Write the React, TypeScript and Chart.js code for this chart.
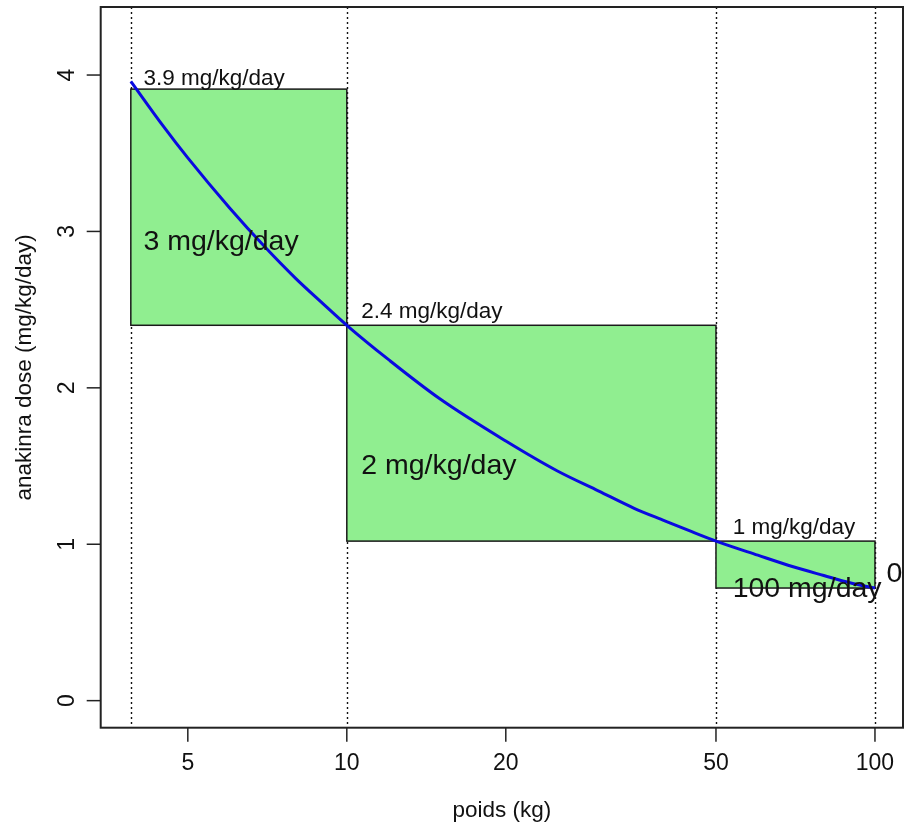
import React, { useEffect, useRef } from "react";
import { Chart, registerables } from "chart.js";
Chart.register(...registerables);

// curve: weight (kg) -> anakinra dose (mg/kg/day)
const weights = [3.9, 4.5, 5, 6, 7, 8, 9, 10, 12, 15, 20, 25, 30, 35, 40, 45, 50, 60, 70, 80, 90, 100];
const doses = [3.96, 3.67, 3.47, 3.15, 2.9, 2.7, 2.54, 2.4, 2.18, 1.93, 1.66, 1.47, 1.34, 1.23, 1.15, 1.08, 1.02, 0.93, 0.856, 0.8, 0.752, 0.72];

// dosing bands (green boxes)
const bandFrom = [3.9, 10, 50];
const bandTo = [10, 50, 100];
const bandLow = [2.4, 1.02, 0.72];
const bandHigh = [3.91, 2.4, 1.02];

// weight cut-offs (dotted lines)
const cutoffs = [3.9, 10, 50, 100];

// axis ticks
const xTicks = [5, 10, 20, 50, 100];
const yTicks = [0, 1, 2, 3, 4];

// annotations (text, anchor weight, anchor dose)
const noteTexts = ["3.9 mg/kg/day", "3 mg/kg/day", "2.4 mg/kg/day", "2 mg/kg/day", "1 mg/kg/day", "100 mg/day", "0"];
const noteX = [4.12, 4.12, 10.65, 10.65, 53.77, 53.77, 105.2];
const noteY = [3.937, 2.882, 2.445, 1.448, 1.064, 0.661, 0.761];
const noteBig = [false, true, false, true, false, true, true];

const FONT = '"Liberation Sans", Arial, Helvetica, sans-serif';

const drawPlugin = {
  id: "rplot",
  beforeDatasetsDraw(chart: any) {
    const { ctx, chartArea, scales } = chart;
    const xs = scales.x, ys = scales.y;
    ctx.save();
    // dotted cut-off lines
    ctx.strokeStyle = "#111";
    ctx.lineWidth = 1.4;
    ctx.setLineDash([2, 3]);
    cutoffs.forEach((c) => {
      const px = Math.round(xs.getPixelForValue(c)) + 0.5;
      ctx.beginPath();
      ctx.moveTo(px, chartArea.top);
      ctx.lineTo(px, chartArea.bottom);
      ctx.stroke();
    });
    ctx.setLineDash([]);
    // bands
    for (let i = 0; i < bandFrom.length; i++) {
      const x0 = xs.getPixelForValue(bandFrom[i]);
      const x1 = xs.getPixelForValue(bandTo[i]);
      const y0 = ys.getPixelForValue(bandHigh[i]);
      const y1 = ys.getPixelForValue(bandLow[i]);
      ctx.fillStyle = "#90EE90";
      ctx.fillRect(x0, y0, x1 - x0, y1 - y0);
      ctx.strokeStyle = "#1a1a1a";
      ctx.lineWidth = 1.5;
      ctx.strokeRect(x0, y0, x1 - x0, y1 - y0);
    }
    ctx.restore();
  },
  afterDatasetsDraw(chart: any) {
    const { ctx, chartArea, scales } = chart;
    const xs = scales.x, ys = scales.y;
    ctx.save();
    ctx.fillStyle = "#111";
    ctx.textBaseline = "alphabetic";
    ctx.textAlign = "left";
    for (let i = 0; i < noteTexts.length; i++) {
      ctx.font = `${noteBig[i] ? 28.5 : 22.5}px ${FONT}`;
      ctx.fillText(noteTexts[i], xs.getPixelForValue(noteX[i]), ys.getPixelForValue(noteY[i]));
    }
    // box
    ctx.strokeStyle = "#222";
    ctx.lineWidth = 2;
    ctx.strokeRect(chartArea.left, chartArea.top, chartArea.right - chartArea.left, chartArea.bottom - chartArea.top);
    // x ticks
    ctx.lineWidth = 1.5;
    ctx.font = `23px ${FONT}`;
    ctx.textAlign = "center";
    xTicks.forEach((t) => {
      const px = xs.getPixelForValue(t);
      ctx.beginPath();
      ctx.moveTo(px, chartArea.bottom);
      ctx.lineTo(px, chartArea.bottom + 14);
      ctx.stroke();
      ctx.fillText(String(t), px, 770);
    });
    // y ticks
    yTicks.forEach((t) => {
      const py = ys.getPixelForValue(t);
      ctx.beginPath();
      ctx.moveTo(chartArea.left, py);
      ctx.lineTo(chartArea.left - 14, py);
      ctx.stroke();
      ctx.save();
      ctx.translate(73.5, py);
      ctx.rotate(-Math.PI / 2);
      ctx.fillText(String(t), 0, 0);
      ctx.restore();
    });
    // axis titles
    ctx.font = `22.5px ${FONT}`;
    ctx.fillText("poids (kg)", (chartArea.left + chartArea.right) / 2, 816.5);
    ctx.save();
    ctx.translate(31, (chartArea.top + chartArea.bottom) / 2);
    ctx.rotate(-Math.PI / 2);
    ctx.fillText("anakinra dose (mg/kg/day)", 0, 0);
    ctx.restore();
    ctx.restore();
  },
};

export default function App() {
  const ref = useRef<HTMLCanvasElement | null>(null);
  useEffect(() => {
    if (!ref.current) return;
    const chart = new Chart(ref.current, {
      type: "line",
      data: {
        datasets: [
          {
            data: weights.map((w, i) => ({ x: w, y: doses[i] })),
            borderColor: "#0a0ae0",
            borderWidth: 3,
            pointRadius: 0,
            cubicInterpolationMode: "monotone",
            fill: false,
          },
        ],
      },
      options: {
        animation: false,
        responsive: false,
        events: [],
        layout: { padding: { top: 7, right: 1, left: 0, bottom: 0 } },
        plugins: { legend: { display: false }, tooltip: { enabled: false } },
        scales: {
          x: {
            type: "logarithmic",
            min: 3.42,
            max: 113,
            grid: { display: false },
            border: { display: false },
            ticks: { display: false },
            afterFit: (s: any) => {
              s.height = 95.3;
            },
          },
          y: {
            type: "linear",
            min: -0.173,
            max: 4.435,
            grid: { display: false },
            border: { display: false },
            ticks: { display: false },
            afterFit: (s: any) => {
              s.width = 100.7;
            },
          },
        },
      } as any,
      plugins: [drawPlugin],
    });
    return () => chart.destroy();
  }, []);
  return (
    <canvas
      ref={ref}
      width={904}
      height={823}
      style={{ position: "absolute", left: 0, top: 0, width: 904, height: 823, display: "block", background: "#fff" }}
    />
  );
}
